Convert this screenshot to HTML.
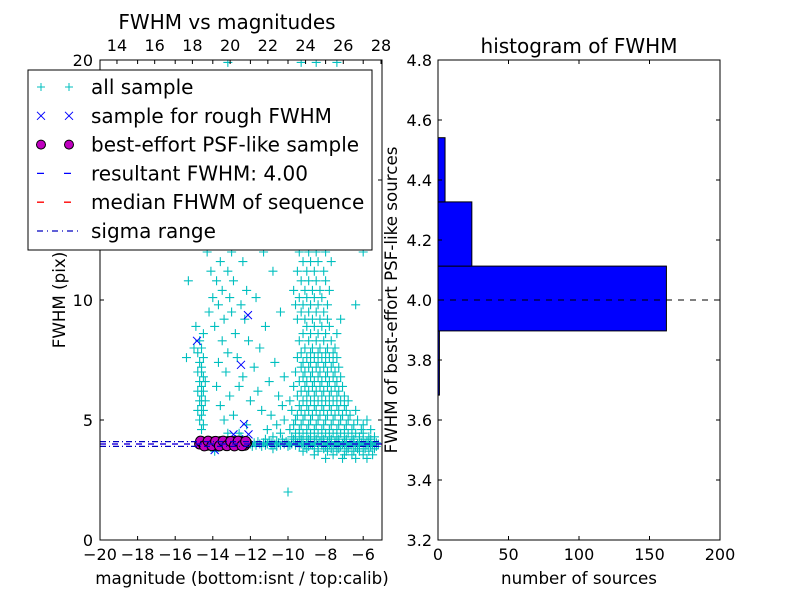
<!DOCTYPE html>
<html><head><meta charset="utf-8"><style>
body{margin:0;background:#fff;}
svg{display:block;font-family:"DejaVu Sans","Liberation Sans",sans-serif;}
</style></head><body>
<svg id="chart" width="800" height="600" viewBox="0 0 800 600">
<rect width="800" height="600" fill="#fff"/>
<g id="left"></g>
<g id="right"></g>
</svg>
<script>
// ---- scatter data: all sample, listed per FWHM row (fwhm value, magnitudes at that fwhm) ----
const rowFwhm = [2.0,3.4,3.55,3.7,3.8,3.9,3.95,4.0,4.05,4.1,4.2,4.3,4.45,4.6,4.8,5.0,5.2,5.4,5.6,5.8,6.0,6.2,6.4,6.6,6.8,7.0,7.2,7.4,7.6,7.8,8.0,8.3,8.6,8.9,9.2,9.5,9.8,10.1,10.4,10.8,11.2,11.6,12.0,12.5,13.0,13.6,14.2,14.8,15.5,16.2,17.0,17.8,18.6,19.4,19.9];
const rowMags = [
 [-10.0],
 [-8.0,-7.1,-6.4,-5.8],
 [-8.6,-7.6,-7.0,-6.6,-6.0,-5.5],
 [-13.9,-9.2,-8.4,-7.9,-7.4,-6.9,-6.5,-6.2,-5.7],
 [-10.8,-9.0,-8.6,-8.1,-7.7,-7.3,-6.8,-6.3,-5.9,-5.4],
 [-11.9,-11.4,-10.6,-10.0,-9.4,-8.9,-8.4,-8.0,-7.6,-7.2,-6.8,-6.4,-6.0,-5.6,-5.3],
 [-11.7,-11.2,-10.9,-10.4,-9.9,-9.6,-9.1,-8.7,-8.2,-7.8,-7.4,-7.0,-6.6,-6.2,-5.8,-5.5],
 [-12.0,-11.5,-11.1,-10.7,-10.2,-9.8,-9.3,-8.8,-8.4,-7.9,-7.5,-7.1,-6.7,-6.3,-5.9,-5.6,-5.2],
 [-11.8,-11.3,-10.9,-10.5,-10.0,-9.5,-9.0,-8.6,-8.1,-7.7,-7.3,-6.9,-6.5,-6.1,-5.7,-5.3],
 [-11.6,-11.0,-10.6,-10.1,-9.6,-9.2,-8.8,-8.3,-7.9,-7.5,-7.0,-6.6,-6.2,-5.8,-5.4],
 [-11.2,-10.3,-9.7,-9.3,-8.9,-8.5,-8.1,-7.7,-7.3,-6.9,-6.5,-6.0,-5.6],
 [-12.5,-10.8,-9.8,-9.4,-9.0,-8.6,-8.2,-7.8,-7.4,-7.0,-6.6,-6.2,-5.7,-5.4],
 [-13.2,-12.6,-10.4,-9.6,-9.2,-8.8,-8.4,-8.0,-7.6,-7.2,-6.8,-6.4,-6.0],
 [-14.6,-11.1,-9.9,-9.4,-9.0,-8.6,-8.2,-7.8,-7.4,-7.0,-6.6,-6.1,-5.6],
 [-14.5,-12.2,-10.6,-9.7,-9.3,-8.9,-8.5,-8.1,-7.7,-7.3,-6.9,-6.5,-6.0],
 [-14.7,-13.4,-10.2,-9.6,-9.2,-8.8,-8.4,-8.0,-7.6,-7.2,-6.8,-6.3,-5.8],
 [-14.6,-12.9,-10.9,-9.5,-9.1,-8.7,-8.3,-7.9,-7.5,-7.1,-6.7],
 [-14.8,-14.5,-11.4,-9.8,-9.3,-8.9,-8.5,-8.1,-7.7,-7.3,-6.9,-6.4],
 [-14.6,-13.6,-10.3,-9.4,-9.0,-8.6,-8.2,-7.8,-7.4,-7.0],
 [-14.7,-14.4,-12.0,-9.9,-9.2,-8.8,-8.4,-8.0,-7.6,-7.2,-6.8],
 [-14.6,-13.1,-10.5,-9.5,-9.0,-8.6,-8.2,-7.8,-7.4,-7.0],
 [-14.8,-14.5,-11.6,-9.3,-8.9,-8.5,-8.1,-7.7,-7.3],
 [-14.6,-13.8,-12.6,-9.7,-9.1,-8.7,-8.3,-7.9,-7.5,-7.1],
 [-14.7,-14.4,-11.0,-9.4,-9.0,-8.6,-8.2,-7.8,-7.4],
 [-14.5,-12.4,-10.2,-9.2,-8.8,-8.4,-8.0,-7.6,-7.2],
 [-14.8,-14.6,-13.3,-9.6,-9.1,-8.7,-8.3,-7.9,-7.5],
 [-14.6,-11.8,-9.3,-8.9,-8.5,-8.1,-7.7,-7.3],
 [-14.7,-13.7,-10.7,-9.2,-8.8,-8.4,-8.0,-7.6],
 [-15.4,-14.5,-12.7,-9.5,-9.0,-8.6,-8.2,-7.8,-7.4],
 [-14.8,-13.2,-9.3,-8.8,-8.4,-8.0,-7.6],
 [-15.0,-14.6,-11.5,-9.1,-8.7,-8.3,-7.9,-7.5],
 [-14.7,-13.5,-12.1,-9.4,-8.9,-8.5,-8.1,-7.7],
 [-14.5,-12.8,-9.2,-8.8,-8.4,-8.0,-7.4],
 [-14.9,-13.9,-11.2,-9.0,-8.6,-8.2,-7.8],
 [-13.4,-12.3,-9.5,-9.1,-8.7,-8.3,-7.9,-7.2],
 [-14.2,-13.0,-10.4,-9.3,-8.9,-8.5,-8.1],
 [-13.7,-12.5,-9.6,-9.2,-8.8,-8.4,-7.9,-6.4],
 [-14.0,-13.1,-11.7,-9.4,-9.0,-8.6,-8.2],
 [-13.5,-12.2,-9.7,-9.1,-8.7,-8.3,-7.8],
 [-15.3,-13.8,-12.9,-9.3,-8.9,-8.5,-8.0],
 [-14.1,-13.2,-10.8,-9.5,-9.0,-8.6,-8.1],
 [-13.6,-12.4,-9.2,-8.8,-8.4,-7.7],
 [-14.3,-13.0,-11.3,-9.4,-8.9,-8.5,-8.0,-6.0],
 [-13.7,-12.6,-9.6,-9.1,-8.6,-8.2],
 [-14.0,-12.9,-10.5,-9.3,-8.8,-8.3],
 [-13.4,-12.2,-9.5,-9.0,-8.5,-7.9],
 [-14.2,-13.1,-9.8,-9.2,-8.7,-8.1],
 [-13.6,-12.5,-9.4,-8.9,-8.4,-7.8],
 [-13.9,-11.9,-9.6,-9.1,-8.6,-8.0],
 [-13.3,-12.7,-9.3,-8.8,-8.2],
 [-14.1,-13.0,-9.5,-9.0,-8.4,-7.7],
 [-13.5,-12.3,-9.2,-8.7,-8.1],
 [-13.8,-9.4,-8.9,-8.3,-7.6],
 [-12.8,-9.1,-8.6,-8.0],
 [-13.2,-9.3,-8.5,-7.4]];
const roughMag = [-14.84,-12.13,-12.5,-12.34,-12.9,-12.1,-13.9,-13.0,-12.6];
const roughFwhm = [8.3,9.37,7.3,4.83,4.4,4.4,3.75,4.1,4.2];
const bestMag = [-14.7,-14.6,-14.5,-14.4,-14.3,-14.2,-14.1,-14.0,-13.9,-13.8,-13.7,-13.6,-13.5,-13.4,-13.3,-13.2,-13.1,-13.0,-12.9,-12.8,-12.7,-12.6,-12.5,-12.4,-12.3,-12.2,-14.65,-14.45,-14.25,-14.05,-13.85,-13.65,-13.45,-13.25,-13.05,-12.85,-12.65,-12.45,-12.25];
const bestFwhm = [4.0,4.1,4.0,4.05,3.95,4.1,4.0,4.05,4.1,3.95,4.0,4.1,4.05,4.0,3.95,4.1,4.0,4.05,4.1,3.95,4.0,4.05,4.1,4.0,3.95,4.05,4.12,3.92,4.12,3.93,4.11,3.92,4.12,3.93,4.11,3.92,4.12,3.93,4.11];
const resultFwhm = 4.00, medianFwhm = 4.00, sigmaLo = 3.90, sigmaHi = 4.10;
const xTicksBottom = [-20,-18,-16,-14,-12,-10,-8,-6];
const xTicksTop = [14,16,18,20,22,24,26,28];
const yTicksLeft = [0,5,10,15,20];
// ---- histogram data ----
const binEdges = [3.683,3.897,4.113,4.327,4.541];
const binCounts = [1,162,24,5];
const hxTicks = [0,50,100,150,200];
const hyTicks = [3.2,3.4,3.6,3.8,4.0,4.2,4.4,4.6,4.8];

const NS='http://www.w3.org/2000/svg';
function mk(p,t,a){const e=document.createElementNS(NS,t);for(const k in a)e.setAttribute(k,a[k]);p.appendChild(e);return e;}
const L=document.getElementById('left'), R=document.getElementById('right');
const lx0=100,lx1=382,ly0=60,ly1=540;
const sx=m=>lx0+(m+20)*(lx1-lx0)/15;
const sxTop=m=>381-(28-m)*18.86;
const sy=f=>ly1-f*(ly1-ly0)/20;
const clip=mk(L,'clipPath',{id:'lc'});mk(clip,'rect',{x:lx0,y:ly0,width:lx1-lx0,height:ly1-ly0});
const pg=mk(L,'g',{'clip-path':'url(#lc)'});


rowFwhm.forEach((f,r)=>{rowMags[r].forEach(m=>{const x=sx(m),y=sy(f);
 const p=mk(pg,'path',{d:`M${x-4.5},${y}h9M${x},${y-4.5}v9`,stroke:'#00bfbf','stroke-width':1.1});
 
 });});
for(let i=0;i<roughMag.length;i++){const x=sx(roughMag[i]),y=sy(roughFwhm[i]);
 const p=mk(pg,'path',{d:`M${x-4},${y-4}l8,8M${x-4},${y+4}l8,-8`,stroke:'#0000ff','stroke-width':1});
 
 }
for(let i=0;i<bestMag.length;i++){const c=mk(pg,'circle',{cx:sx(bestMag[i]),cy:sy(bestFwhm[i]),r:5,fill:'#bf00bf',stroke:'#000','stroke-width':1});
 
 }
function hl(v,col,dash,name){const l=mk(pg,'line',{x1:lx0,x2:lx1,y1:sy(v),y2:sy(v),stroke:col,'stroke-width':1.2,'stroke-dasharray':dash});
 
 }
hl(sigmaLo,'#0000bf','6,3,1,3','sigma-low-line');hl(sigmaHi,'#0000bf','6,3,1,3','sigma-high-line');
hl(medianFwhm,'#ff0000','6,6','median-line');hl(resultFwhm,'#0000ff','6,6','resultant-line');
mk(L,'rect',{x:lx0,y:ly0,width:lx1-lx0,height:ly1-ly0,fill:'none',stroke:'#000','stroke-width':1});
function txt(p,x,y,s,anchor,size,name,rot){const t=mk(p,'text',{x:x,y:y,'text-anchor':anchor,'font-size':size,fill:'#000'});if(rot)t.setAttribute('transform',rot);t.textContent=s;
 
 return t;}
xTicksBottom.forEach(v=>{const x=sx(v);mk(L,'path',{d:`M${x},${ly1}v-4M${x},${ly0}v4`,stroke:'#000'});
 txt(L,x,560,(v<0?'\u2212':'')+Math.abs(v),'middle',16,'x-tick-label');});
xTicksTop.forEach(v=>{const x=sxTop(v);mk(L,'path',{d:`M${x},${ly0}v4`,stroke:'#000'});txt(L,x,51,String(v),'middle',16,'top-x-tick-label');});
yTicksLeft.forEach(v=>{const y=sy(v);mk(L,'path',{d:`M${lx0},${y}h4M${lx1},${y}h-4`,stroke:'#000'});txt(L,lx0-7,y+6,String(v),'end',16,'y-tick-label');});
txt(L,242,584,'magnitude (bottom:isnt / top:calib)','middle',16.7,'x-axis-title');
txt(L,65,300,'FWHM (pix)','middle',16.7,'y-axis-title','rotate(-90 65 300)');
txt(L,227,29,'FWHM vs magnitudes','middle',20,'left-title');
const lg=mk(L,'g',{});


mk(lg,'rect',{x:28,y:70,width:344,height:180,fill:'#fff',stroke:'#000','stroke-width':1});
const entries=[['all sample','plus'],['sample for rough FWHM','x'],['best-effort PSF-like sample','o'],['resultant FWHM: 4.00','blue'],['median FHWM of sequence','red'],['sigma range','dd']];
entries.forEach((e,i)=>{const y=87+i*28.8;const g=mk(lg,'g',{});
 
 
 [41,69].forEach(x=>{
  if(e[1]=='plus')mk(g,'path',{d:`M${x-4},${y}h8M${x},${y-4}v8`,stroke:'#00bfbf'});
  if(e[1]=='x')mk(g,'path',{d:`M${x-4},${y-4}l8,8M${x-4},${y+4}l8,-8`,stroke:'#0000ff'});
  if(e[1]=='o')mk(g,'circle',{cx:x,cy:y,r:4.5,fill:'#bf00bf',stroke:'#000'});});
 if(e[1]=='blue')mk(g,'line',{x1:37,x2:78,y1:y,y2:y,stroke:'#0000ff','stroke-dasharray':'7,20','stroke-width':1.3});
 if(e[1]=='red')mk(g,'line',{x1:37,x2:78,y1:y,y2:y,stroke:'#ff0000','stroke-dasharray':'7,20','stroke-width':1.3});
 if(e[1]=='dd')mk(g,'line',{x1:37,x2:78,y1:y,y2:y,stroke:'#0000bf','stroke-dasharray':'6,4,1,4','stroke-width':1.2});
 txt(g,91,y+7,e[0],'start',20,'legend-label');});
const rx0=438,rx1=720,ry0=60,ry1=540;
const hx=c=>rx0+c*(rx1-rx0)/200;
const hy=v=>ry1-(v-3.2)*(ry1-ry0)/1.6;
binCounts.forEach((c,i)=>{const b=mk(R,'rect',{x:rx0,y:hy(binEdges[i+1]),width:hx(c)-rx0,height:hy(binEdges[i])-hy(binEdges[i+1]),fill:'#0000ff',stroke:'#000','stroke-width':1});
 
 });
const dl=mk(R,'line',{x1:rx0,x2:rx1,y1:hy(resultFwhm),y2:hy(resultFwhm),stroke:'#000','stroke-dasharray':'6,6','stroke-width':1});


mk(R,'rect',{x:rx0,y:ry0,width:rx1-rx0,height:ry1-ry0,fill:'none',stroke:'#000'});
hxTicks.forEach(v=>{const x=hx(v);mk(R,'path',{d:`M${x},${ry1}v-4M${x},${ry0}v4`,stroke:'#000'});txt(R,x,560,String(v),'middle',16,'hist-x-tick-label');});
hyTicks.forEach(v=>{const y=hy(v);mk(R,'path',{d:`M${rx0},${y}h4M${rx1},${y}h-4`,stroke:'#000'});txt(R,rx0-6,y+6,v.toFixed(1),'end',16,'hist-y-tick-label');});
txt(R,579,584,'number of sources','middle',16.7,'hist-x-axis-title');
txt(R,397,300,'FWHM of best-effort PSF-like sources','middle',16.7,'hist-y-axis-title','rotate(-90 397 300)');
txt(R,579,53,'histogram of FWHM','middle',20,'hist-title');
</script>
</body></html>
